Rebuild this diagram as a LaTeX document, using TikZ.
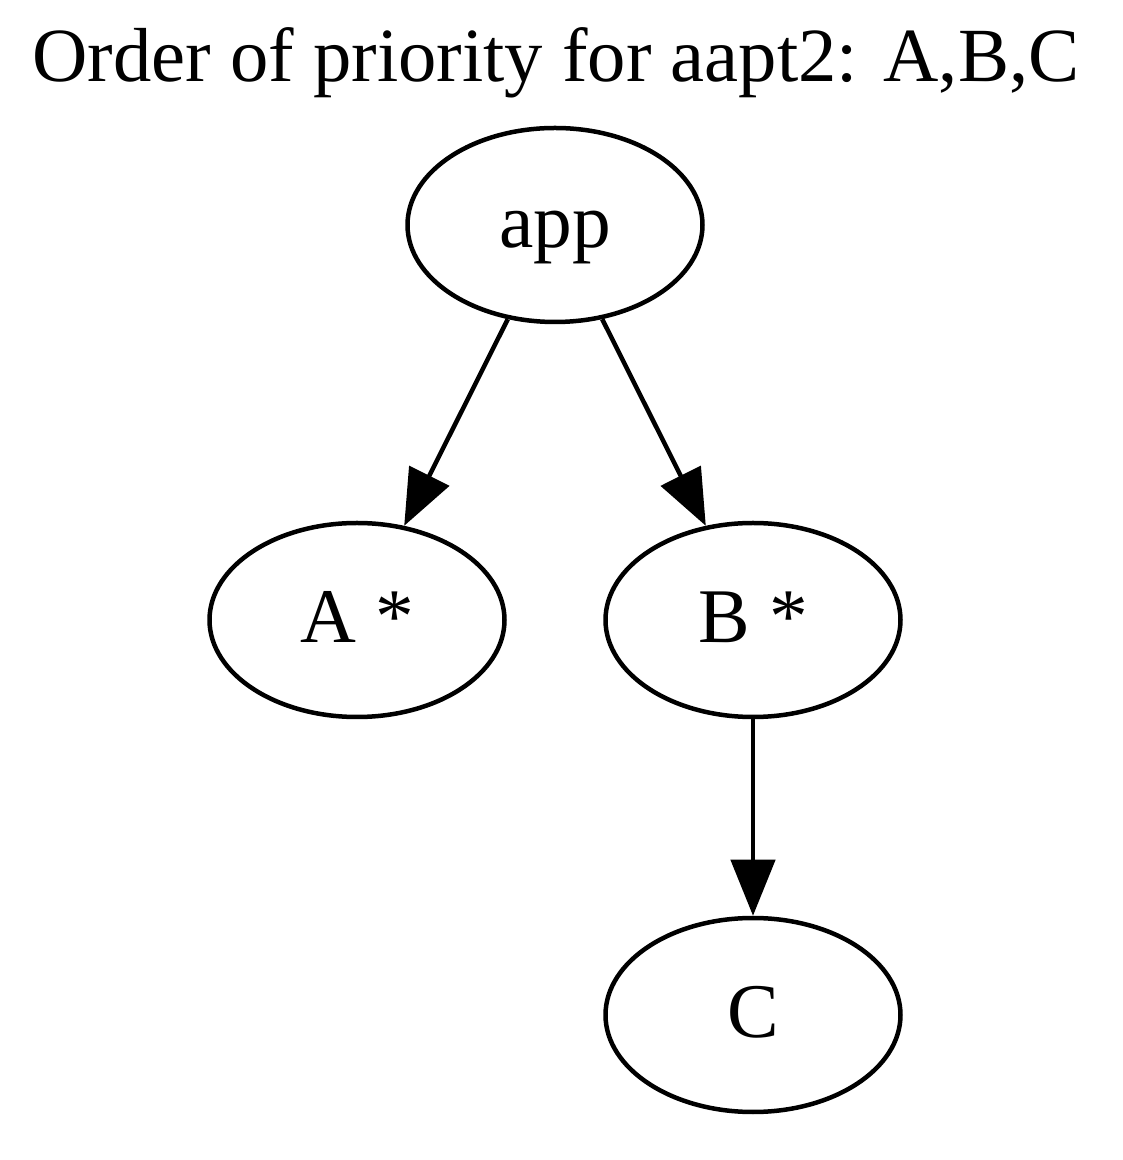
\documentclass[tikz,border=0pt]{standalone}
\usepackage{fontspec}
\setmainfont{Liberation Serif}
\usepackage{tikz}
\usetikzlibrary{shapes.geometric}
\usetikzlibrary{arrows.meta}
\usetikzlibrary{positioning}
\usetikzlibrary{calc}
\tikzset{
   every path/.style={>={Triangle[length=5.6mm,width=4.4mm]}},
   lbl/.style={font=\fontsize{22pt}{26pt}\selectfont},
   ttl/.style={font=\fontsize{21.8pt}{26pt}\selectfont},
   pkg/.style={ellipse,draw,line width=0.045cm,minimum width=2.95cm,minimum height=1.94cm,
     inner sep=0pt,lbl,text height=0.6cm,text depth=0.14cm},
   dep/.style={->,line width=0.045cm},
}

\begin{document}
\begin{tikzpicture}
  \useasboundingbox (0,0) rectangle (11.22,11.60);

  \node[ttl,anchor=base] (title) at (5.56, 10.78) {Order of priority for aapt2: A,B,C};

  \node[pkg] (app)  at (5.55, 9.35)  {app};
  \node[pkg] (na)   at (3.57, 5.40)  {A *};
  \node[pkg] (nb)   at (7.53, 5.40)  {B *};
  \node[pkg] (nc)   at (7.53, 1.45)  {C};

  \draw[dep] (app) -- (na);
  \draw[dep] (app) -- (nb);
  \draw[dep] (nb)  -- (nc);
\end{tikzpicture}
\end{document}
